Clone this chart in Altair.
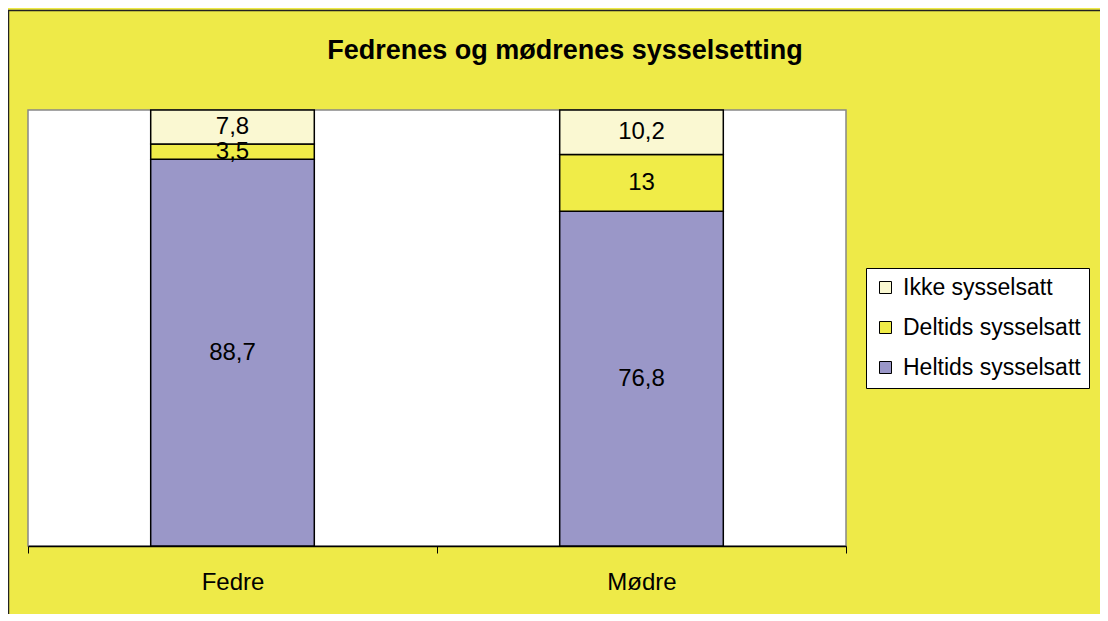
import altair as alt
import pandas as pd

categories = ["Fedre", "Mødre"]
series = ["Ikke sysselsatt", "Deltids sysselsatt", "Heltids sysselsatt"]
heltid = [88.7, 76.8]
deltid = [3.5, 13.0]
ikke = [7.8, 10.2]
colors = ["#FAF8D2", "#F0EC48", "#9A97C8"]
title_text = "Fedrenes og mødrenes sysselsetting"

rows = []
for i, c in enumerate(categories):
    start = 0.0
    for ordv, (s, vals) in enumerate([("Heltids sysselsatt", heltid),
                                       ("Deltids sysselsatt", deltid),
                                       ("Ikke sysselsatt", ikke)]):
        v = vals[i]
        rows.append({"cat": c, "serie": s, "value": v, "ord": ordv,
                     "mid": start + v / 2,
                     "label": f"{v:g}".replace(".", ",")})
        start += v
df = pd.DataFrame(rows)

FONT = "Liberation Sans"

xscale = alt.Scale(paddingInner=0, paddingOuter=0)
xenc = alt.X("cat:N", sort=categories, title=None, scale=xscale,
             axis=alt.Axis(labelAngle=0, labelFontSize=24, labelFont=FONT,
                           labelColor="#000", domainColor="#000", domainWidth=1.5,
                           tickColor="#000", tickSize=7, tickBand="extent",
                           labelPadding=17))
yscale = alt.Scale(domain=[0, 100])

border = alt.Chart(pd.DataFrame({"a": [0]})).mark_rect(
    fillOpacity=0, stroke="#222", strokeWidth=1.5
).encode(x=alt.value(-19.5), x2=alt.value(1400), y=alt.value(-99.5), y2=alt.value(900))

bars = alt.Chart(df).mark_bar(stroke="#000", strokeWidth=1.5,
                              width=alt.RelativeBandSize(0.4)).encode(
    x=xenc,
    y=alt.Y("value:Q", stack="zero", scale=yscale, axis=None),
    color=alt.Color("serie:N", scale=alt.Scale(domain=series, range=colors),
                    legend=alt.Legend(title=None, orient="none", legendX=838, legendY=158,
                                      direction="vertical", fillColor="#FFFFFF",
                                      strokeColor="#000", padding=8, rowPadding=16,
                                      labelFont=FONT, labelFontSize=23, labelColor="#000",
                                      symbolType="square", symbolSize=144,
                                      symbolStrokeColor="#000", symbolStrokeWidth=1,
                                      labelOffset=6, labelLimit=400)),
    order=alt.Order("ord:Q"),
)

labels = alt.Chart(df).mark_text(font=FONT, fontSize=24, color="#000",
                                 baseline="middle", align="center").encode(
    x=alt.X("cat:N", sort=categories, scale=xscale),
    y=alt.Y("mid:Q", scale=yscale),
    text="label:N",
)

title = alt.Chart(pd.DataFrame({"t": [title_text]})).mark_text(
    font=FONT, fontSize=27, fontWeight="bold", color="#000",
    align="center", baseline="alphabetic"
).encode(x=alt.value(537), y=alt.value(-51), text="t:N")

chart = alt.layer(border, bars, labels, title).properties(
    width=818, height=436,
    autosize=alt.AutoSizeParams(type="none"),
    padding={"left": 20, "top": 102, "right": 254, "bottom": 68},
).configure(background="#EEEA48").configure_view(
    fill="#FFFFFF", stroke="#888888", strokeWidth=1.5
)

chart.save("out.html", embed_options={"renderer": "svg", "actions": False})
